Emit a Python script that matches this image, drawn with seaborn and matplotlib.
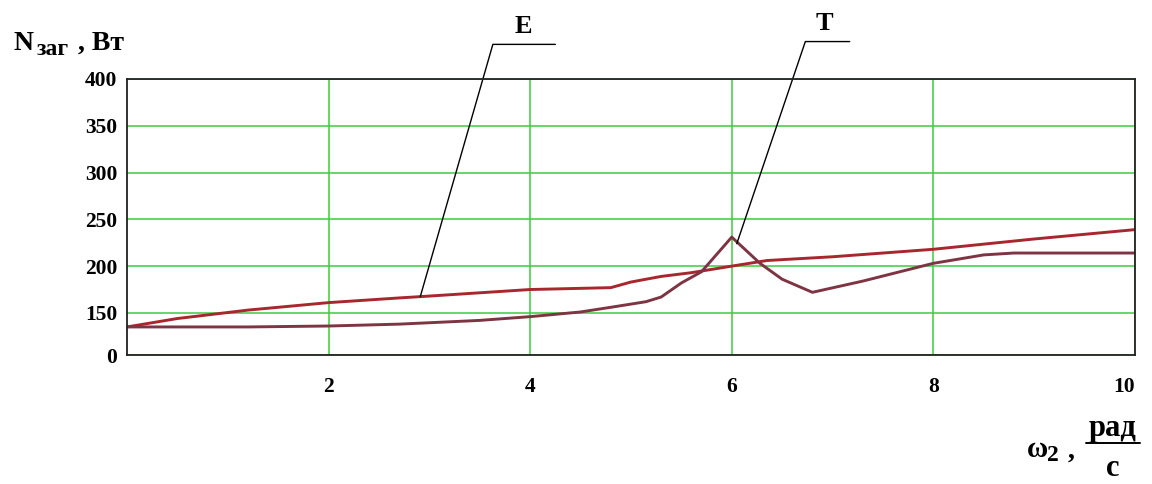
import numpy as np
import pandas as pd
import matplotlib
matplotlib.use("Agg")
import matplotlib.pyplot as plt
from matplotlib.lines import Line2D
import seaborn as sns

# Angular speed, rad/s, and loading power, W, for the two drives
omega_E = [0.0, 0.5, 1.2, 2.0, 2.7, 3.0, 4.0, 4.8, 5.0, 5.3, 5.6, 6.0, 6.35, 7.0, 8.0, 9.0, 10.0]
power_E = [135, 144, 153, 161, 166, 168, 175, 177, 183, 189, 193, 200, 206, 210, 218, 229, 239]

omega_T = [0.0, 1.2, 2.0, 2.7, 3.5, 4.0, 4.5, 4.8, 5.15, 5.3, 5.5, 5.7, 6.0, 6.28, 6.5, 6.8,
           7.3, 8.0, 8.5, 8.8, 10.0]
power_T = [135, 135, 136, 138, 142, 146, 151, 156, 162, 167, 182, 194, 231, 203, 186, 172,
           184, 203, 212, 214, 214]

x_ticks = [2, 4, 6, 8, 10]
y_ticks = [105, 150, 200, 250, 300, 350, 400]
y_tick_labels = ["0", "150", "200", "250", "300", "350", "400"]

sns.set_style("white")
plt.rcParams["font.family"] = ["Liberation Serif", "DejaVu Serif"]
plt.rcParams["font.weight"] = "bold"
plt.rcParams["text.color"] = "black"
plt.rcParams["xtick.color"] = "black"
plt.rcParams["ytick.color"] = "black"

fig = plt.figure(figsize=(11.52, 4.84), dpi=100)
ax = fig.add_axes([0.1102, 0.2665, 0.875, 0.5703])

df_E = pd.DataFrame({"omega": omega_E, "power": power_E})
df_T = pd.DataFrame({"omega": omega_T, "power": power_T})

sns.lineplot(data=df_E, x="omega", y="power", ax=ax, color="#a8262e", linewidth=2.1)
sns.lineplot(data=df_T, x="omega", y="power", ax=ax, color="#7e3442", linewidth=2.1)

ax.set_xlim(0, 10)
ax.set_ylim(105, 400)
ax.set_xticks(x_ticks)
ax.set_yticks(y_ticks)
ax.set_yticklabels(y_tick_labels)
ax.set_xlabel("")
ax.set_ylabel("")
ax.grid(True, color="#3ccc3c", linewidth=1.1)
ax.set_axisbelow(True)
ax.tick_params(axis="both", length=0, labelsize=15.5, labelcolor="black")
ax.tick_params(axis="x", pad=16)
ax.tick_params(axis="y", pad=7)
for lbl in ax.get_xticklabels() + ax.get_yticklabels():
    lbl.set_fontweight("bold")
ax.get_xticklabels()[-1].set_horizontalalignment("right")
for sp in ax.spines.values():
    sp.set_visible(True)
    sp.set_color("#222222")
    sp.set_linewidth(1.3)

# Callout leaders naming each curve
leader_kw = dict(color="black", linewidth=1.0, clip_on=False)
e_x0 = 2.91
ax.plot([e_x0, 3.63, 4.25], [np.interp(e_x0, omega_E, power_E), 437, 437], **leader_kw)
ax.text(3.93, 444, "E", ha="center", va="bottom", fontsize=19, fontweight="bold")

t_x0 = 6.05
ax.plot([t_x0, 6.73, 7.17], [np.interp(t_x0, omega_T, power_T) - 2, 440, 440], **leader_kw)
ax.text(6.92, 447, "T", ha="center", va="bottom", fontsize=19, fontweight="bold")

# Axis titles
W, H = 1152, 484
def fx(px):
    return px / W
def fy(py):
    return 1 - py / H

fig.text(fx(14), fy(50), "N", fontsize=20, fontweight="bold", ha="left", va="baseline")
fig.text(fx(37), fy(55), "заг", fontsize=17, fontweight="bold", ha="left", va="baseline")
fig.text(fx(78), fy(50), ", Вт", fontsize=20, fontweight="bold", ha="left", va="baseline")

fig.text(fx(1027), fy(457), "ω", fontsize=21, fontweight="bold", ha="left", va="baseline")
fig.text(fx(1047), fy(461), "2", fontsize=17, fontweight="bold", ha="left", va="baseline")
fig.text(fx(1068), fy(458), ",", fontsize=20, fontweight="bold", ha="left", va="baseline")
fig.text(fx(1113), fy(436), "рад", fontsize=22, fontweight="bold", ha="center", va="baseline")
fig.add_artist(Line2D([fx(1086), fx(1140)], [fy(443), fy(443)], color="black", linewidth=1.4))
fig.text(fx(1113), fy(476), "с", fontsize=22, fontweight="bold", ha="center", va="baseline")

fig.savefig("out.png", dpi=100, facecolor="white")
